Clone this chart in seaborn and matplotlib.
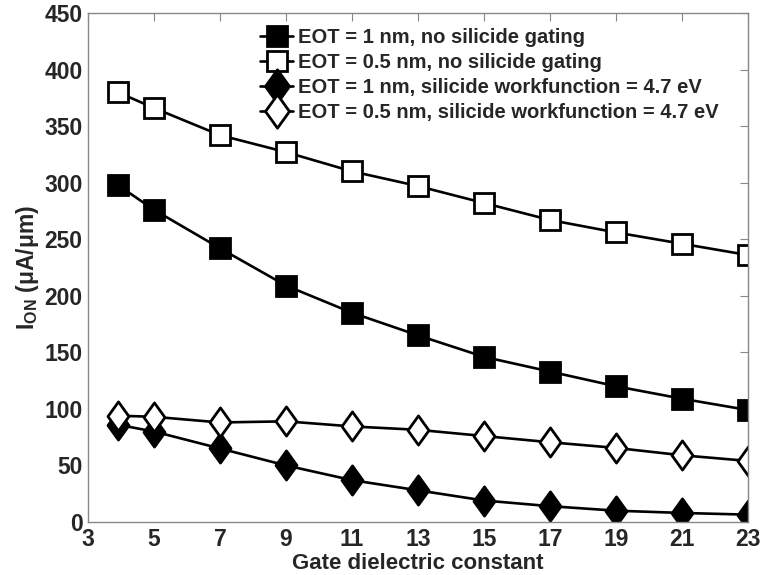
import matplotlib
matplotlib.use("Agg")
import matplotlib.pyplot as plt
import seaborn as sns
import pandas as pd
from matplotlib.path import Path

k_values = [3.9, 5, 7, 9, 11, 13, 15, 17, 19, 21, 23]
eot1_no_gating = [298, 276, 242, 209, 185, 165, 146, 133, 120, 109, 99]
eot05_no_gating = [380, 366, 342, 327, 310, 297, 282, 267, 256, 246, 236]
eot1_wf47 = [86, 80, 65, 50, 37, 28, 19, 14, 10, 8, 6.5]
eot05_wf47 = [94, 93, 88, 89, 84.5, 81.5, 76, 70.5, 65.5, 59, 54]
labels = ["EOT = 1 nm, no silicide gating",
          "EOT = 0.5 nm, no silicide gating",
          "EOT = 1 nm, silicide workfunction = 4.7 eV",
          "EOT = 0.5 nm, silicide workfunction = 4.7 eV"]
x_ticks = [3, 5, 7, 9, 11, 13, 15, 17, 19, 21, 23]
y_ticks = [0, 50, 100, 150, 200, 250, 300, 350, 400, 450]

sns.set_theme(style="white")
plt.rcParams['font.family'] = ['Liberation Sans', 'DejaVu Sans']
plt.rcParams['font.weight'] = 'bold'
plt.rcParams['mathtext.fontset'] = 'custom'
plt.rcParams['mathtext.rm'] = 'Liberation Sans:bold'
plt.rcParams['mathtext.bf'] = 'Liberation Sans:bold'
plt.rcParams['mathtext.it'] = 'Liberation Sans:bold'

diamond = Path([(0, 1), (0.72, 0), (0, -1), (-0.72, 0), (0, 1)],
               [Path.MOVETO, Path.LINETO, Path.LINETO, Path.LINETO, Path.CLOSEPOLY])

fig = plt.figure(figsize=(7.61, 5.75), dpi=100)
ax = fig.add_axes([88/761, 1 - 522/575, (748-88)/761, (522-13)/575])

series = [
    (eot1_no_gating, 's', 'black', 14),
    (eot05_no_gating, 's', 'white', 14),
    (eot1_wf47, diamond, 'black', 21),
    (eot05_wf47, diamond, 'white', 21),
]
for (vals, mk, fc, ms), lab in zip(series, labels):
    df = pd.DataFrame({"k": k_values, "I": vals})
    sns.lineplot(data=df, x="k", y="I", ax=ax, color="black", linewidth=1.9,
                 marker=mk, markersize=ms, markerfacecolor=fc,
                 markeredgecolor="black", markeredgewidth=2.0, label=lab)

ax.set_xlim(3, 23)
ax.set_ylim(0, 450)
ax.set_xticks(x_ticks)
ax.set_yticks(y_ticks)
ax.tick_params(axis='both', which='both', direction='in', length=6, width=0.8,
               color='#888888', top=True, right=True, labelsize=16.5, pad=4)
for lab in ax.get_xticklabels() + ax.get_yticklabels():
    lab.set_fontweight('bold')
for s in ax.spines.values():
    s.set_color('#888888')
    s.set_linewidth(1.0)

ax.set_xlabel("Gate dielectric constant", fontsize=16, fontweight='bold', labelpad=2)
ax.set_ylabel(r"$\mathbf{I_{ON}}$ (μA/μm)", fontsize=16.5, fontweight='bold', labelpad=2)

leg = ax.legend(loc='upper left', bbox_to_anchor=(172/660, 0.970), frameon=False,
                handlelength=1.65, handletextpad=0.25, borderpad=0, borderaxespad=0,
                labelspacing=0.3, prop={'weight': 'bold', 'size': 14.5})
for h, ms in zip(leg.legend_handles, [15, 15, 24, 24]):
    h.set_markersize(ms)

fig.savefig("out.png", dpi=100, facecolor='white')
